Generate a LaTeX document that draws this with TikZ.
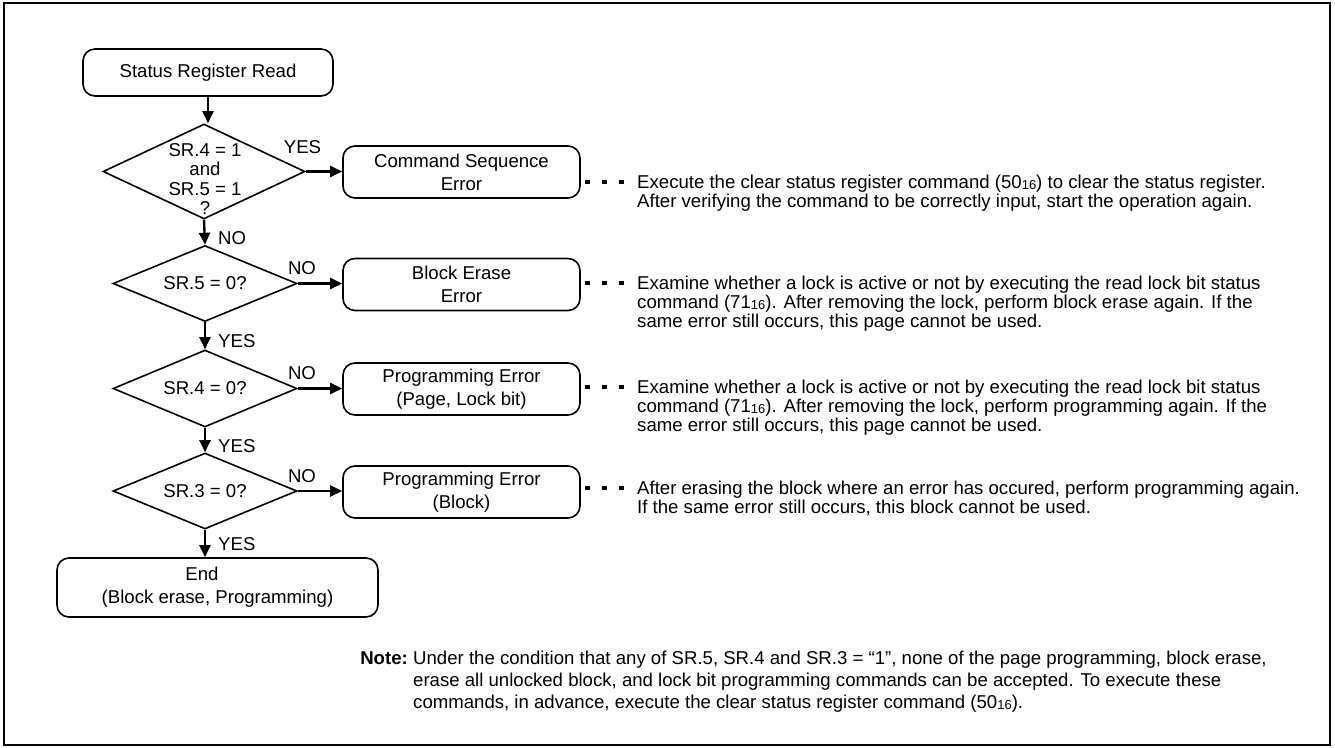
\documentclass[tikz,border=0pt]{standalone}
\usepackage{fontspec}
\setmainfont{Liberation Sans}
\usetikzlibrary{shapes.geometric,arrows.meta}
\newcommand\hexsub[1]{\raisebox{-1pt}{\fontsize{13pt}{13pt}\selectfont #1}}
\newcommand\firststrut{\rule{0pt}{14pt}}
\begin{document}
\begin{tikzpicture}[x=1pt,y=-1pt,
  every node/.style={font=\fontsize{18.6pt}{23pt}\selectfont},
  proc/.style={draw, line width=1.6pt, rounded corners=12pt, inner sep=0pt, align=center},
  dia/.style={draw, diamond, line width=1.6pt, inner sep=0pt, aspect=2.4},
  flow/.style={line width=2.4pt, -{Triangle[length=12pt,width=11pt]}},
  lbl/.style={inner sep=0pt},
  desc/.style={anchor=north west, inner sep=0pt, align=left, font=\fontsize{18.6pt}{18.8pt}\selectfont},
  notetext/.style={anchor=north west, inner sep=0pt, align=left, font=\fontsize{18.6pt}{22pt}\selectfont},
  dots/.style={line width=3.5pt, dash pattern=on 5pt off 12pt}
]
\useasboundingbox (0,0) rectangle (1335,747);
\draw[line width=1.6pt] (4,3) rectangle (1330,745);

% main column
\node[proc, minimum width=250pt, minimum height=47pt] (start) at (208,72.5) {Status Register Read};
\node[dia, minimum width=202pt, minimum height=95pt] (d1) at (204,171.5) {};
\node[align=center, inner sep=0pt, font=\fontsize{18.6pt}{19.5pt}\selectfont] (d1t) at (205,179) {SR.4 = 1\\and\\SR.5 = 1\\?};
\node[dia, minimum width=184pt, minimum height=76pt] (d2) at (205,283.5) {SR.5 = 0?};
\node[dia, minimum width=184pt, minimum height=77pt] (d3) at (205,388.5) {SR.4 = 0?};
\node[dia, minimum width=184pt, minimum height=76pt] (d4) at (205,491) {SR.3 = 0?};
\node[proc, minimum width=321pt, minimum height=59pt] (end) at (217.5,587.5) {End\hspace*{31pt}\\(Block erase, Programming)};

% error boxes
\node[proc, minimum width=237pt, minimum height=52pt] (b1) at (461.5,172) {Command Sequence\\Error};
\node[proc, minimum width=237pt, minimum height=52pt] (b2) at (461.5,284.5) {Block Erase\\Error};
\node[proc, minimum width=237pt, minimum height=52pt] (b3) at (461.5,389) {Programming Error\\(Page, Lock bit)};
\node[proc, minimum width=237pt, minimum height=52pt] (b4) at (461.5,492) {Programming Error\\(Block)};

% flow arrows
\draw[flow] (start.south) -- (start.south |- d1.north);
\draw[flow] (d1.south) -- (d2.north);
\draw[flow] (d2.south) -- (d3.north);
\draw[flow] (d3.south) -- (d4.north);
\draw[flow] (d4.south) -- (d4.south |- end.north);
\draw[flow] (d1.east) -- (d1.east -| b1.west);
\draw[flow] (d2.east) -- (d2.east -| b2.west);
\draw[flow] (d3.east) -- (d3.east -| b3.west);
\draw[flow] (d4.east) -- (d4.east -| b4.west);

% branch labels
\node[lbl] (y1) at (302.5,147) {YES};
\node[lbl, anchor=west] (n1) at (218,238) {NO};
\node[lbl] (n2) at (302,268.5) {NO};
\node[lbl, anchor=west] (y2) at (218,341) {YES};
\node[lbl] (n3) at (302,373.5) {NO};
\node[lbl, anchor=west] (y3) at (218,446) {YES};
\node[lbl] (n4) at (302,476) {NO};
\node[lbl, anchor=west] (y4) at (218,544) {YES};

% descriptions
\node[desc] (t1) at (637,174.7) {\firststrut Execute the clear status register command (50\hexsub{16}) to clear the status register.\\
After verifying the command to be correctly input, start the operation again.};
\node[desc] (t2) at (637,275.7) {\firststrut Examine whether a lock is active or not by executing the read lock bit status\\
command (71\hexsub{16}). After removing the lock, perform block erase again. If the\\
same error still occurs, this page cannot be used.};
\node[desc] (t3) at (637,379.7) {\firststrut Examine whether a lock is active or not by executing the read lock bit status\\
command (71\hexsub{16}). After removing the lock, perform programming again. If the\\
same error still occurs, this page cannot be used.};
\node[desc] (t4) at (637,480.7) {\firststrut After erasing the block where an error has occured, perform programming again.\\
If the same error still occurs, this block cannot be used.};

\foreach \i in {1,2,3,4}{
  \coordinate (c\i) at ([yshift=-7.34pt]t\i.north west);
  \coordinate (e\i) at ([xshift=4pt]b\i.east);
  \draw[dots] (e\i |- c\i) -- ([xshift=-10pt]c\i);
}

% note
\node[lbl, anchor=east, font=\bfseries\fontsize{18.6pt}{22pt}\selectfont] (notelbl) at (408,658) {Note:};
\node[notetext] (note) at (413,650.7) {\firststrut Under the condition that any of SR.5, SR.4 and SR.3 = “1”, none of the page programming, block erase,\\
erase all unlocked block, and lock bit programming commands can be accepted. To execute these\\
commands, in advance, execute the clear status register command (50\hexsub{16}).};
\end{tikzpicture}
\end{document}
